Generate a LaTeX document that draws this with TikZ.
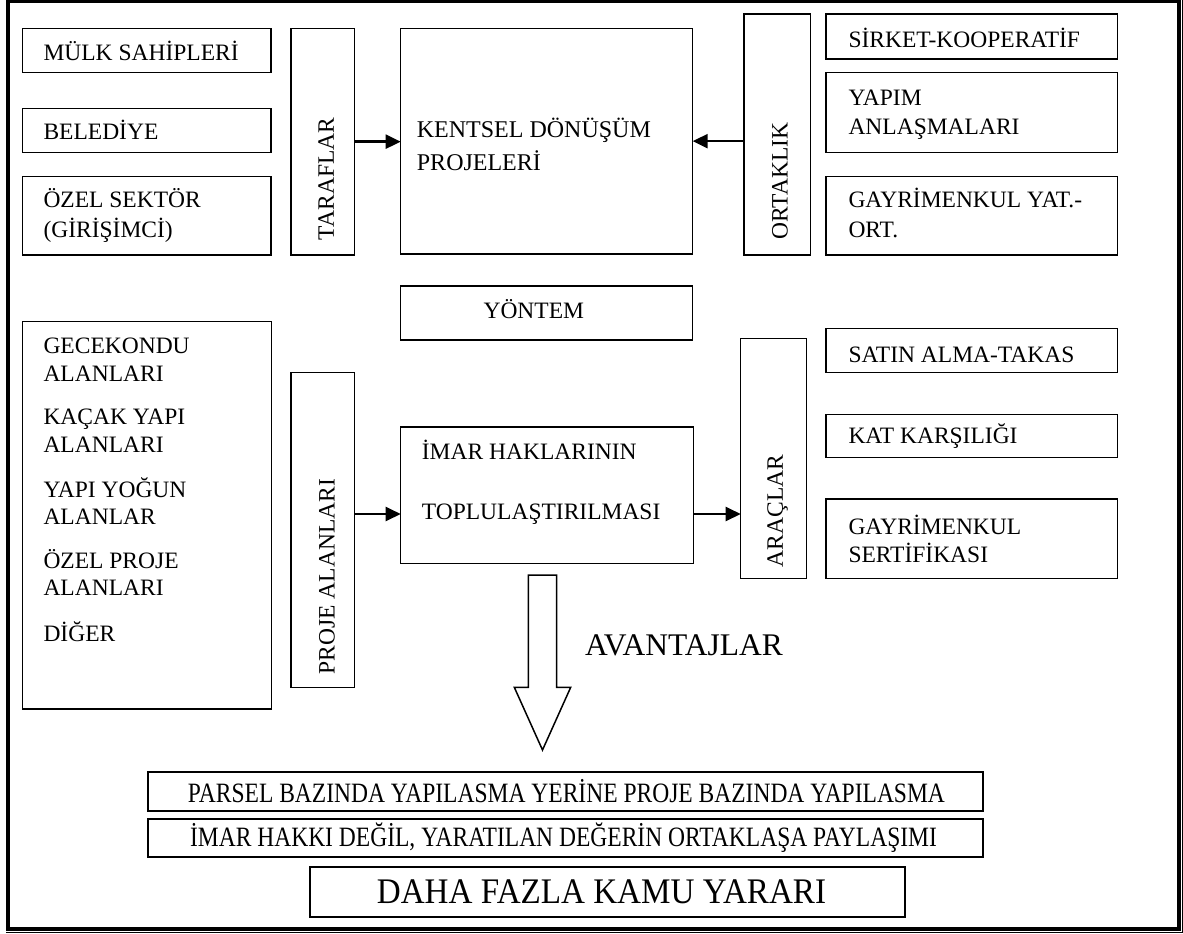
\documentclass[tikz,border=0pt]{standalone}
\usepackage{fontspec}
\setmainfont{Liberation Serif}
\usetikzlibrary{arrows.meta}

% box from its corners: name, x1, y1, x2, y2
\newcommand\mkbox[6][]{%
  \node[box,#1,minimum width={#5-#3},minimum height={#6-#4}] (#2)
    at ({(#3+#5)/2},{(#4+#6)/2}) {};}

\begin{document}
\begin{tikzpicture}[x=1pt,y=-1pt,
  box/.style={draw,line width=1.5pt,inner sep=0pt,outer sep=0pt},
  bigbox/.style={draw,line width=2.2pt,inner sep=0pt,outer sep=0pt},
  txt/.style={anchor=west,align=left,inner sep=0pt,
    font=\fontsize{23.5}{27.5}\selectfont},
  vtxt/.style={rotate=90,inner sep=0pt,font=\fontsize{23.5}{27.5}\selectfont},
  arr/.style={line width=2.4pt,-{Triangle[length=15pt,width=14pt]}},
  hollow/.style={draw,line width=1.5pt,line join=miter}]

\useasboundingbox (0,0) rectangle (1183,934);

% page frame: thick line with a thin line outside on the right and bottom
\draw[line width=3.6pt] (8,1.2) rectangle (1178.7,929);
\draw[line width=1.6pt] (1182.3,0) -- (1182.3,932.4) -- (6,932.4);

% parties
\mkbox{mulk}{22.7}{28.3}{271}{72.3}
\mkbox{belediye}{22.7}{108.3}{271}{152.3}
\mkbox{ozel}{22.7}{176.7}{271}{255}
\mkbox{taraflar}{291}{28.3}{354.3}{255}
\node[txt] (mulk-t) at (43.3,55.4) {\strut MÜLK SAHİPLERİ};
\node[txt] (belediye-t) at (43.3,134.1) {\strut BELEDİYE};
\node[txt,font=\fontsize{23.5}{30}\selectfont] (ozel-t) at (43.3,216.8)
  {\strut ÖZEL SEKTÖR\\\strut (GİRİŞİMCİ)};
\node[vtxt] (taraflar-t) at (326,179) {TARAFLAR};

% central project box
\mkbox{kentsel}{400.7}{28.3}{692.7}{254}
\node[txt,font=\fontsize{24}{33}\selectfont] (kentsel-t) at (416.7,147.8)
  {\strut KENTSEL DÖNÜŞÜM\\\strut PROJELERİ};

% partnership
\mkbox{ortaklik}{744}{14}{810.7}{255}
\node[vtxt] (ortaklik-t) at (780,181) {ORTAKLIK};
\mkbox{sirket}{826}{14}{1117.3}{59}
\mkbox{yapim}{826}{72.3}{1117.3}{152.3}
\mkbox{gayyat}{826}{176.7}{1117.3}{255}
\node[txt] (sirket-t) at (848.3,42.4) {\strut SİRKET-KOOPERATİF};
\node[txt,font=\fontsize{23.5}{28.7}\selectfont] (yapim-t) at (848.3,114.4)
  {\strut YAPIM\\\strut ANLAŞMALARI};
\node[txt,font=\fontsize{23.5}{30}\selectfont] (gayyat-t) at (848.3,216.8)
  {\strut GAYRİMENKUL YAT.-\\\strut ORT.};

% method
\mkbox{yontem}{400.7}{286}{692.7}{340}
\node[inner sep=0pt,font=\fontsize{23.5}{27.5}\selectfont] (yontem-t)
  at (533.8,313.4) {\strut YÖNTEM};

% project areas
\mkbox{gecekondu}{22.7}{321.7}{271.7}{709}
\node[txt,font=\fontsize{23.5}{27.2}\selectfont] (gecekondu-t) at (43.3,492.1)
  {\strut GECEKONDU\\\strut ALANLARI\\[16.5pt]
   \strut KAÇAK YAPI\\\strut ALANLARI\\[16.5pt]
   \strut YAPI YOĞUN\\\strut ALANLAR\\[16.5pt]
   \strut ÖZEL PROJE\\\strut ALANLARI\\[16.5pt]
   \strut DİĞER};
\mkbox{proje}{291}{372.3}{354.3}{687.3}
\node[vtxt] (proje-t) at (327,576.5) {PROJE ALANLARI};

% pooling of development rights
\mkbox{imar}{400.7}{427}{693.3}{563.3}
\node[txt,font=\fontsize{23.5}{60}\selectfont] (imar-t) at (421.7,477.5)
  {\strut İMAR HAKLARININ\\\strut TOPLULAŞTIRILMASI};

% tools
\mkbox{araclar}{740.7}{338.3}{806.7}{578.3}
\node[vtxt] (araclar-t) at (777.5,511) {ARAÇLAR};
\mkbox{satin}{826}{328.3}{1117.3}{372.3}
\mkbox{kat}{826}{414.3}{1117.3}{457.7}
\mkbox{gaysert}{826}{499}{1117.3}{578.3}
\node[txt] (satin-t) at (848.3,357.4) {\strut SATIN ALMA-TAKAS};
\node[txt] (kat-t) at (848.3,437.4) {\strut KAT KARŞILIĞI};
\node[txt,font=\fontsize{23.5}{26.6}\selectfont] (gaysert-t) at (848.3,542.5)
  {\strut GAYRİMENKUL\\\strut SERTİFİKASI};

% connectors
\coordinate (lowrow) at (0,514);
\draw[arr] (taraflar.east) -- (taraflar.east -| kentsel.west);
\draw[arr] (ortaklik.west |- kentsel.east) -- (kentsel.east);
\draw[arr] (proje.east |- lowrow) -- (imar.west |- lowrow);
\draw[arr] (imar.east |- lowrow) -- (araclar.west |- lowrow);

% advantages
\coordinate (adv-top) at (542.5,575);
\coordinate (adv-tip) at (542.5,750);
\draw[hollow] ([xshift=-14.2pt]adv-top) -- ([xshift=14.2pt]adv-top)
  -- (556.7,687.3) -- (570.7,687.3) -- (adv-tip) -- (514.3,687.3)
  -- (528.3,687.3) -- cycle;
\node[txt,font=\fontsize{31.5}{36}\selectfont] (avantajlar) at (585,648.2)
  {\strut AVANTAJLAR};

% outcomes
\mkbox[bigbox]{parsel}{148}{772}{983}{811}
\node[inner sep=0pt,font=\fontsize{28}{30}\selectfont] (parsel-t) at (566.5,791.5)
  {\scalebox{0.84}[1]{PARSEL BAZINDA YAPILASMA YERİNE PROJE BAZINDA YAPILASMA}};
\mkbox[bigbox]{imarhakki}{148}{819}{983}{857}
\node[inner sep=0pt,font=\fontsize{28}{30}\selectfont] (imarhakki-t) at (563.5,838)
  {\scalebox{0.84}[1]{İMAR HAKKI DEĞİL, YARATILAN DEĞERİN ORTAKLAŞA PAYLAŞIMI}};
\mkbox[bigbox]{daha}{310}{867}{905}{917}
\node[inner sep=0pt,font=\fontsize{36}{38}\selectfont] (daha-t) at (601.5,892)
  {\scalebox{0.92}[1]{DAHA FAZLA KAMU YARARI}};

\end{tikzpicture}
\end{document}
